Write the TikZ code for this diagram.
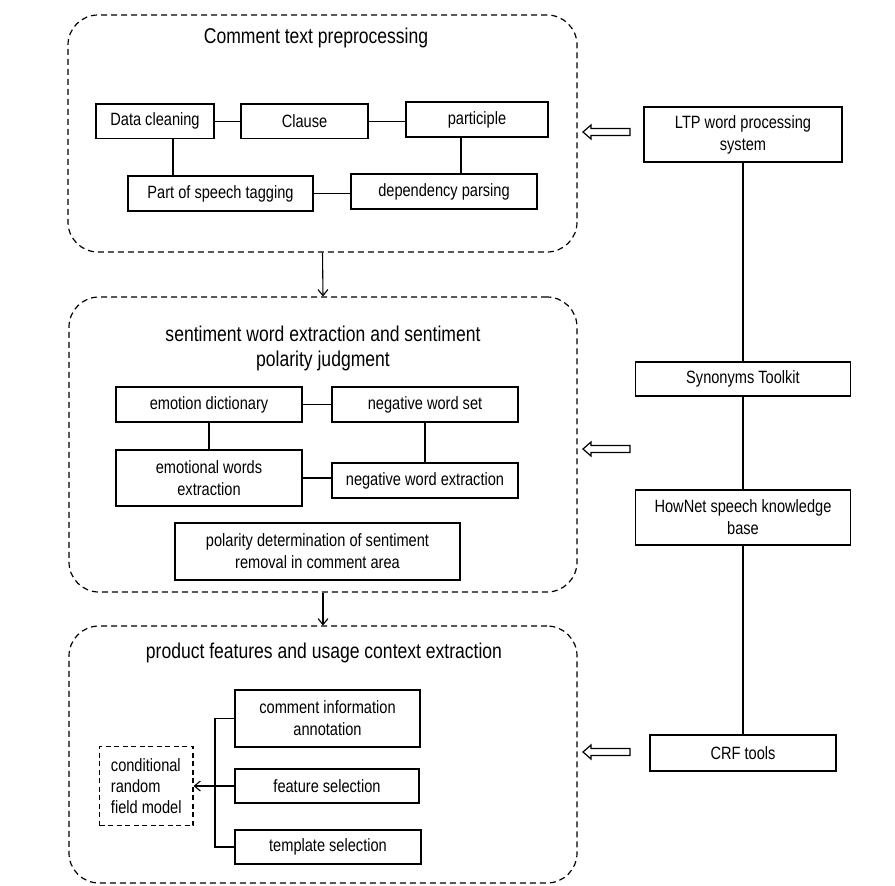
\documentclass[tikz,border=0pt]{standalone}
\usepackage{fontspec}
\setmainfont{Liberation Sans}
\newfontfamily\narrowsans[FakeStretch=0.82]{Liberation Sans}
\usetikzlibrary{arrows.meta}
\begin{document}
\begin{tikzpicture}[x=1pt,y=-1pt,
  box/.style={draw, line width=1.3pt, inner sep=0pt, align=center,
    font=\narrowsans\fontsize{17.8}{22}\selectfont},
  panel/.style={draw, line width=1.2pt, dash pattern=on 6pt off 4pt,
    rounded corners=30pt, inner sep=0pt},
  paneltitle/.style={align=center, inner sep=0pt,
    font=\narrowsans\fontsize{21.4}{25}\selectfont},
  link/.style={line width=1.1pt},
  flow/.style={line width=1.1pt, -{Straight Barb[length=6pt,width=10pt,line width=1.1pt]}},
  hollow/.style={line width=1.2pt, fill=white}
]
\useasboundingbox (0,0) rectangle (895,886);

% ---------- panel 1: preprocessing ----------
\node[panel, minimum width=509, minimum height=237] (p1) at (322.5,133.5) {};
\node[paneltitle] (t1) at (316,38) {Comment text preprocessing};
\node[box, minimum width=118, minimum height=34.5] (dc)  at (155,121.25) {Data cleaning};
\node[box, minimum width=127, minimum height=34.5] (cl)  at (304.5,121.25) {Clause};
\node[box, minimum width=142, minimum height=35]   (pa)  at (477,119.5) {participle};
\node[box, minimum width=185, minimum height=35]   (pos) at (220.5,193.5) {Part of speech tagging};
\node[box, minimum width=186, minimum height=35]   (dp)  at (444,191.5) {dependency parsing};
\draw[link] (dc.east) -- (cl.west);
\draw[link] (cl.east) -- (cl.east -| pa.west);
\draw[link] ([xshift=18pt]dc.south) -- ([xshift=18pt]dc.south |- pos.north);
\draw[link] ([xshift=-16pt]pa.south) -- ([xshift=-16pt]pa.south |- dp.north);
\draw[link] (pos.east) -- (pos.east -| dp.west);

% ---------- panel 2: sentiment words ----------
\node[panel, minimum width=508, minimum height=295] (p2) at (323,444.5) {};
\node[paneltitle] (t2) at (323,348) {sentiment word extraction and sentiment\\polarity judgment};
\node[box, minimum width=186, minimum height=35] (ed)  at (209,404.5) {emotion dictionary};
\node[box, minimum width=186, minimum height=35] (nws) at (425,404.5) {negative word set};
\node[box, minimum width=186, minimum height=56] (ewe) at (209,478) {emotional words\\extraction};
\node[box, minimum width=186, minimum height=35] (nwe) at (425,480.5) {negative word extraction};
\node[box, minimum width=285, minimum height=57] (pd)  at (317.5,551.5) {polarity determination of sentiment\\removal in comment area};
\draw[link] (ed.east) -- (nws.west);
\draw[link] (ed.south) -- (ewe.north);
\draw[link] (nws.south) -- (nwe.north);
\draw[link] (ewe.east) -- (ewe.east -| nwe.west);

% ---------- panel 3: product features ----------
\node[panel, minimum width=508, minimum height=257] (p3) at (323,754.5) {};
\node[paneltitle] (t3) at (324,653) {product features and usage context extraction};
\node[box, minimum width=185, minimum height=57] (cia) at (327.5,718.5) {comment information\\annotation};
\node[box, minimum width=184, minimum height=34] (fs)  at (327,786) {feature selection};
\node[box, minimum width=186, minimum height=34] (ts)  at (328,847) {template selection};
\node[box, dash pattern=on 5pt off 3.5pt, line width=1.1pt, align=left,
      minimum width=93.5, minimum height=79,
      font=\narrowsans\fontsize{17.8}{21}\selectfont] (crf) at (146.25,786) {conditional\\random\\field model};
\coordinate (spine) at (215,786);
\draw[link] (cia.west) -| (spine) |- (ts.west);
\draw[flow] (fs.west) -- (crf.east);

% ---------- flow between panels ----------
\draw[flow] (p1.south) -- (p2.north);
\draw[flow] (p2.south) -- (p3.north);

% ---------- tool chain ----------
\node[box, minimum width=198, minimum height=55] (ltp)  at (743,134.5) {LTP word processing\\system};
\node[box, minimum width=215, minimum height=34] (syn)  at (743,379) {Synonyms Toolkit};
\node[box, minimum width=215, minimum height=55] (hn)   at (743,517.5) {HowNet speech knowledge\\base};
\node[box, minimum width=186, minimum height=36] (crft) at (743,753) {CRF tools};
\draw[link] (ltp.south) -- (syn.north);
\draw[link] (syn.south) -- (hn.north);
\draw[link] (hn.south) -- (crft.north);

% ---------- hollow arrows into the panels ----------
\coordinate (h1) at (583,132);
\coordinate (h2) at (583,449);
\coordinate (h3) at (583,752);
\foreach \h in {h1,h2,h3}{
  \draw[hollow] (\h) -- ++(8,-7) -- ++(0,3.5) -- ++(39,0) -- ++(0,7)
    -- ++(-39,0) -- ++(0,3.5) -- cycle;
}
\end{tikzpicture}
\end{document}
